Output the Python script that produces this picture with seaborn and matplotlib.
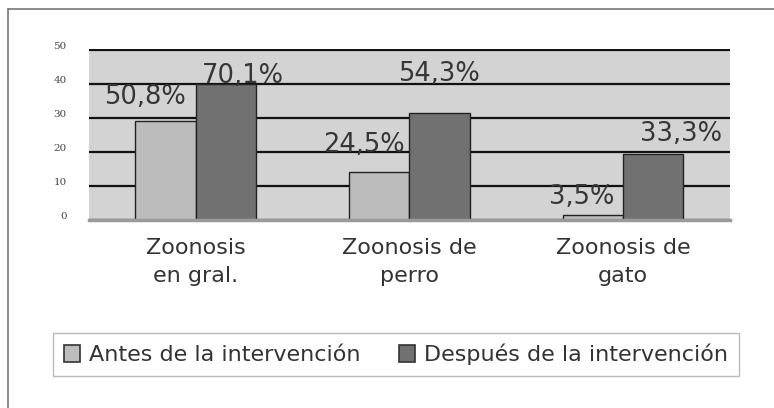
import pandas as pd
import matplotlib.pyplot as plt
import matplotlib.transforms as mtransforms
import seaborn as sns
from matplotlib.patches import Patch
from matplotlib.lines import Line2D

categorias = ['Zoonosis\nen gral.', 'Zoonosis de\nperro', 'Zoonosis de\ngato']
series = ['Antes de la intervención', 'Después de la intervención']
antes = [29, 14, 1.5]
despues = [40, 31.5, 19.5]
etiquetas_antes = ['50,8%', '24,5%', '3,5%']
etiquetas_despues = ['70,1%', '54,3%', '33,3%']
yticks = [0, 10, 20, 30, 40, 50]

df = pd.DataFrame({
    'grupo': categorias * 2,
    'valor': antes + despues,
    'serie': [series[0]] * 3 + [series[1]] * 3,
})

sns.set_theme(style='white')
plt.rcParams['font.family'] = ['DejaVu Sans']

colores = ['#bcbcbc', '#717171']

fig = plt.figure(figsize=(7.74, 4.08), dpi=100)
ax = fig.add_axes([0.115, 0.461, 0.828, 0.419])
ax.set_facecolor('#d3d3d3')

sns.barplot(data=df, x='grupo', y='valor', hue='serie', palette=colores,
            width=0.565, edgecolor='#222222', linewidth=1.0, saturation=1,
            legend=False, ax=ax, zorder=3)

ax.set_xlim(-0.5, 2.5)
ax.set_ylim(0, 50.3)
ax.set_yticks(yticks)
ax.set_yticklabels([str(t) for t in yticks], family='DejaVu Serif',
                   fontsize=7.5, color='#444444')
ax.yaxis.grid(True, color='#111111', linewidth=1.6, zorder=1)
ax.set_axisbelow(True)
ax.tick_params(axis='both', length=0)
ax.tick_params(axis='x', pad=13, labelsize=16, labelcolor='#333333')
ax.tick_params(axis='y', pad=16)
for lbl in ax.get_xticklabels():
    lbl.set_linespacing(1.5)
# y labels sit a little above their lines in the original
subir = mtransforms.ScaledTranslation(0, 4 / 100, fig.dpi_scale_trans)
for lbl in ax.get_yticklabels():
    lbl.set_transform(lbl.get_transform() + subir)
ax.set_xlabel('')
ax.set_ylabel('')
for s in ['left', 'right', 'top']:
    ax.spines[s].set_visible(False)
ax.spines['bottom'].set_color('#9a9a9a')
ax.spines['bottom'].set_linewidth(2.5)
ax.spines['bottom'].set_zorder(4)

# offsets of the value labels from the top of each bar, in pixels
desp_antes = [(-21, 24), (-15, 27), (-11, 18)]
desp_despues = [(17, 8), (-1, 39), (28, 20)]
for cont, textos, desps in [(ax.containers[0], etiquetas_antes, desp_antes),
                            (ax.containers[1], etiquetas_despues, desp_despues)]:
    for barra, texto, (dx, dy) in zip(cont, textos, desps):
        x = barra.get_x() + barra.get_width() / 2
        y = barra.get_height()
        ax.annotate(texto, (x, y), xytext=(dx, dy), textcoords='offset pixels',
                    ha='center', va='center', fontsize=18.5, color='#363636',
                    zorder=5)

handles = [Patch(facecolor=c, edgecolor='#333333', linewidth=1.2) for c in colores]
leg = fig.legend(handles, series, loc='center', bbox_to_anchor=(0.5116, 0.131),
                 ncol=2, fontsize=16, frameon=True, fancybox=False,
                 edgecolor='#aaaaaa', handlelength=0.75, handleheight=0.75,
                 handletextpad=0.4, columnspacing=1.7, borderpad=0.5)
for t in leg.get_texts():
    t.set_color('#333333')

# outer frame (left and top only)
fig.add_artist(Line2D([7.5 / 774, 7.5 / 774], [0, 1 - 8.5 / 408],
                      transform=fig.transFigure, color='#777777', linewidth=1.2))
fig.add_artist(Line2D([7.5 / 774, 1], [1 - 8.5 / 408, 1 - 8.5 / 408],
                      transform=fig.transFigure, color='#777777', linewidth=1.2))

fig.savefig('out.png', dpi=100, facecolor='white')
